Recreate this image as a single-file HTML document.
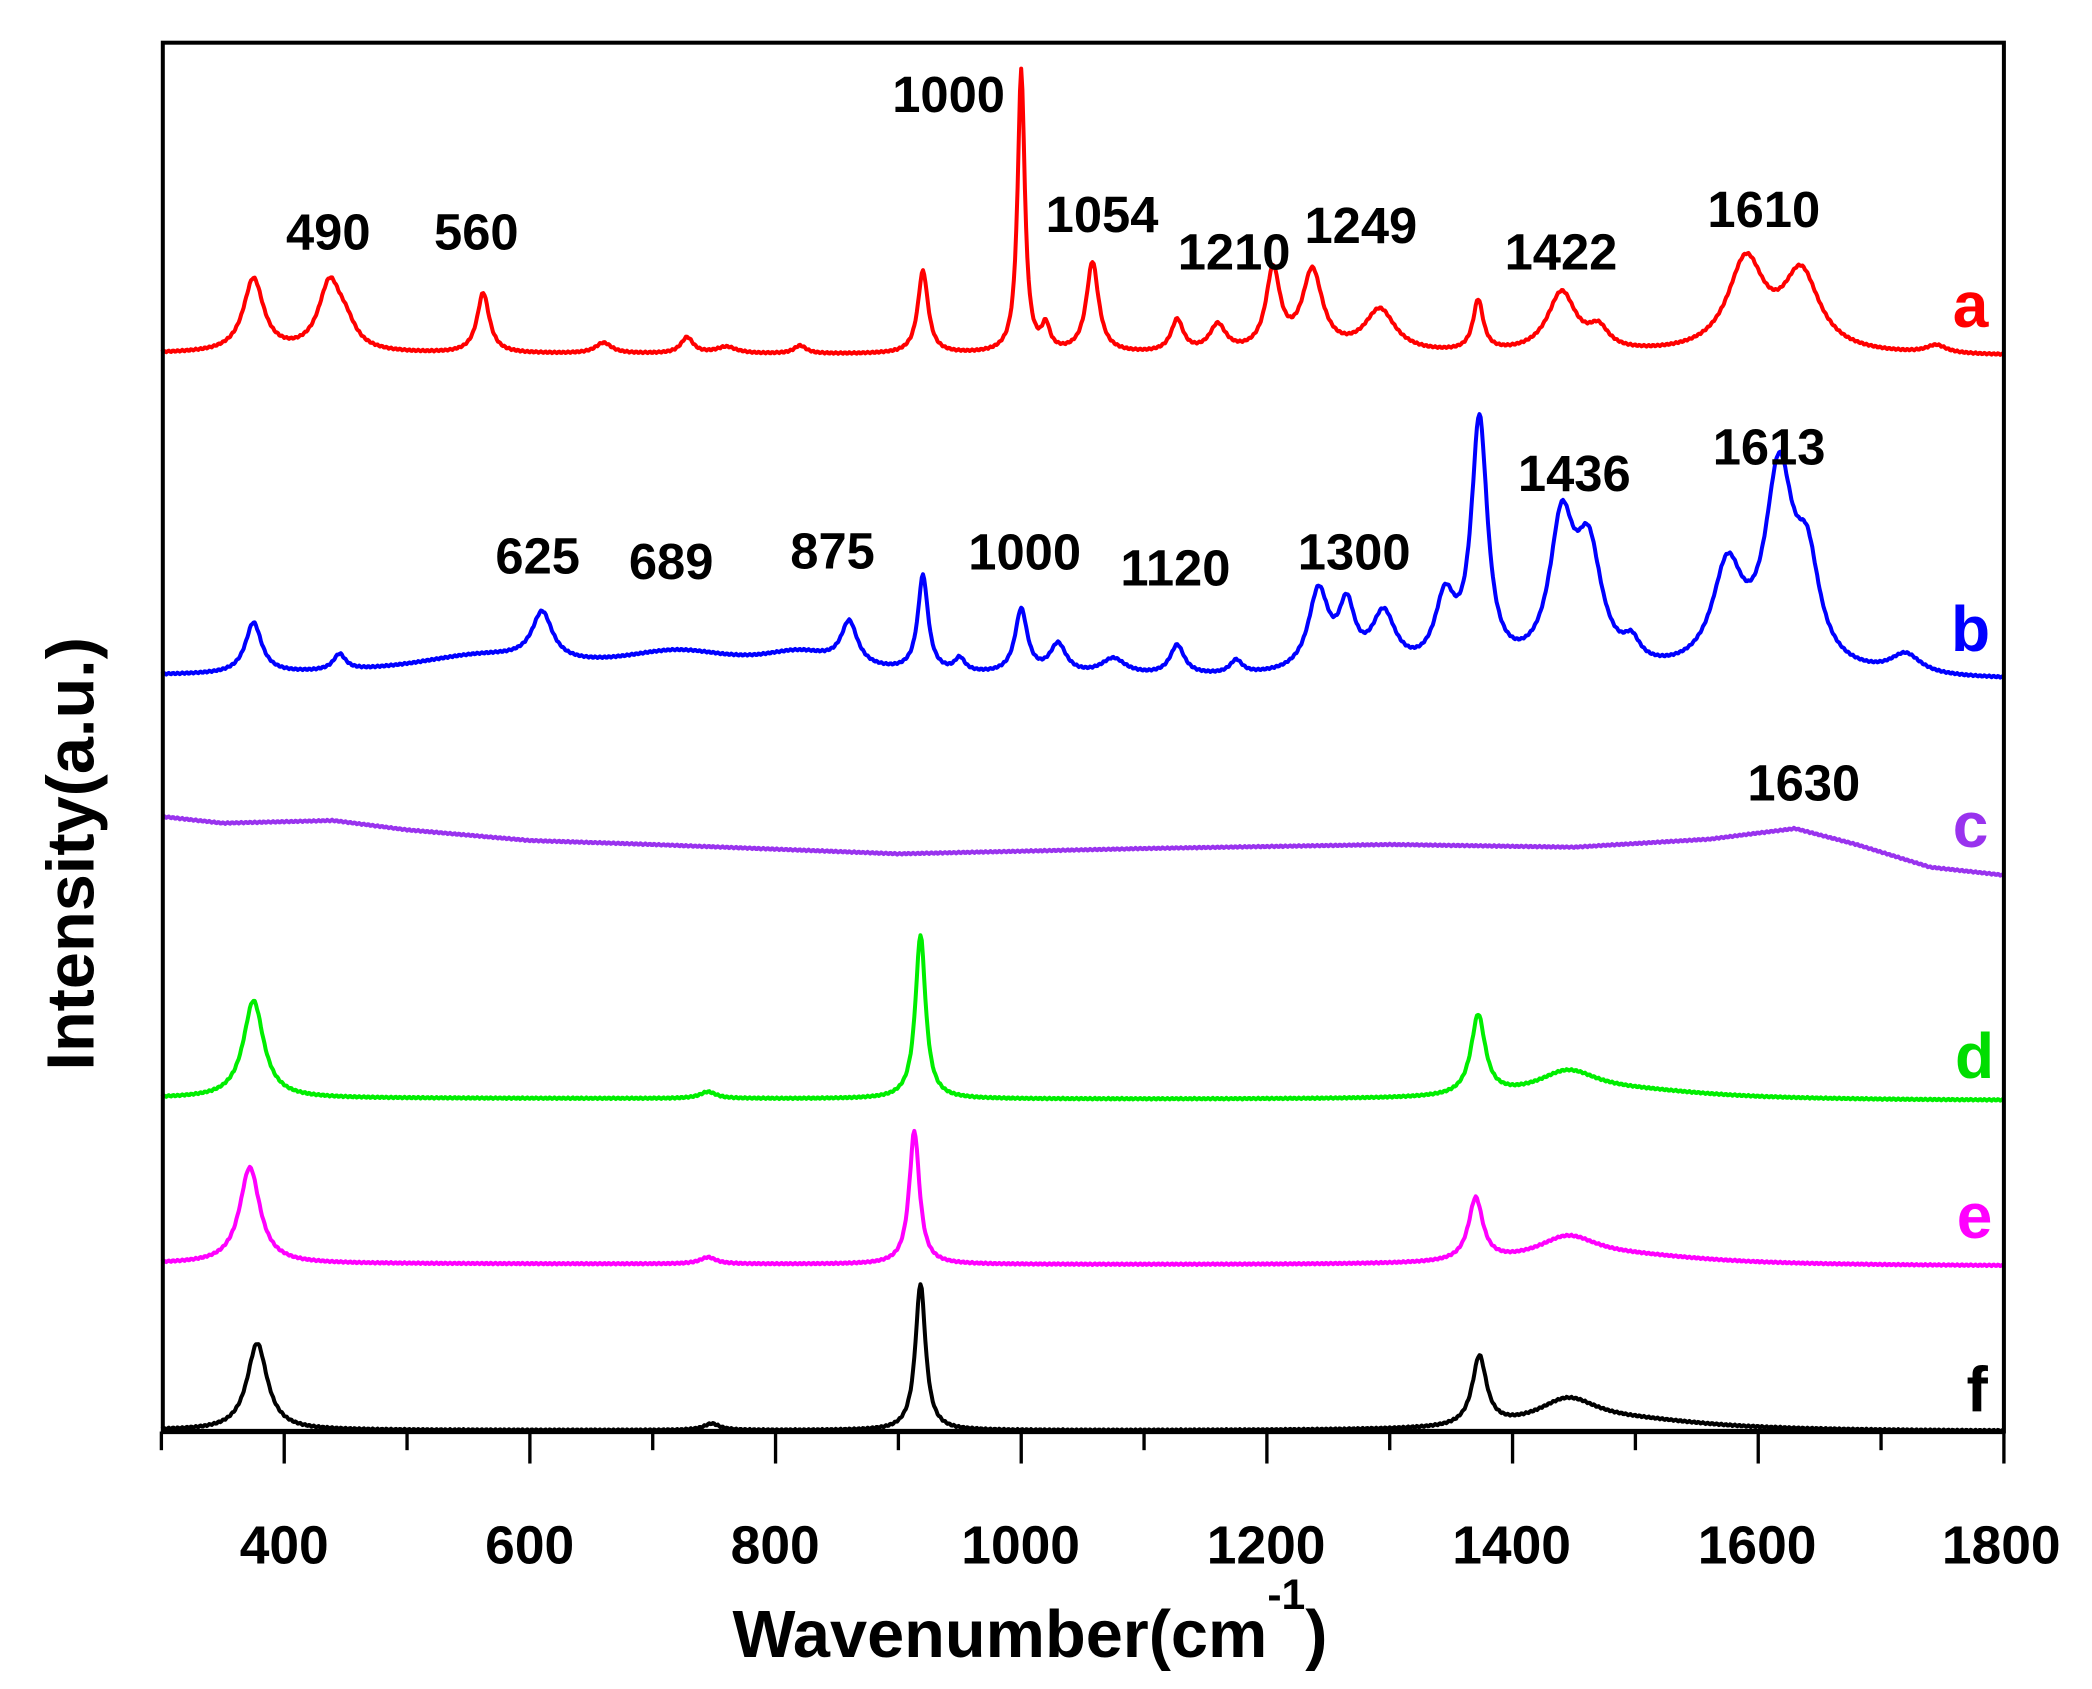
<!DOCTYPE html>
<html><head><meta charset="utf-8"><style>
html,body{margin:0;padding:0;background:#fff;}
svg{display:block;}
text{font-family:"Liberation Sans",Arial,sans-serif;font-weight:bold;}
</style></head><body>
<svg id="s" width="2092" height="1689" viewBox="0 0 1568 1266" xmlns="http://www.w3.org/2000/svg">
<rect x="0" y="0" width="1568" height="1266" fill="#fff"/>
<g id="curves" fill="none" stroke-width="3" stroke-linejoin="round"></g>
<rect x="122" y="32" width="1380" height="1041" fill="none" stroke="#000" stroke-width="3"/>
<line x1="122" y1="1073" x2="1502" y2="1073" stroke="#000" stroke-width="4"/>
<g id="ticks" stroke="#000" stroke-width="2.5"></g>
<g font-size="40" text-anchor="middle">
<text x="213" y="1172">400</text><text x="397" y="1172">600</text><text x="581" y="1172">800</text>
<text x="765" y="1172">1000</text><text x="949" y="1172">1200</text><text x="1133" y="1172">1400</text>
<text x="1317" y="1172">1600</text><text x="1500" y="1172">1800</text>
</g>
<text x="772" y="1242" font-size="50" text-anchor="middle">Wavenumber(cm<tspan font-size="32" dy="-36">-1</tspan><tspan dy="36">)</tspan></text>
<text transform="translate(70,640) rotate(-90)" font-size="50" text-anchor="middle">Intensity(a.u.)</text>
<g font-size="38" text-anchor="middle">
<text x="711" y="84">1000</text><text x="246" y="187">490</text><text x="357" y="187">560</text>
<text x="826" y="174">1054</text><text x="925" y="202">1210</text><text x="1020" y="182">1249</text>
<text x="1170" y="202">1422</text><text x="1322" y="170">1610</text>
<text x="403" y="430">625</text><text x="503" y="434">689</text><text x="624" y="426">875</text>
<text x="768" y="427">1000</text><text x="881" y="439">1120</text><text x="1015" y="427">1300</text>
<text x="1180" y="368">1436</text><text x="1326" y="348">1613</text><text x="1352" y="600">1630</text>
</g>
<g font-size="48" text-anchor="middle">
<text x="1477" y="245" fill="#ff0000">a</text>
<text x="1477" y="488" fill="#0000ff">b</text>
<text x="1477" y="635" fill="#9933ee">c</text>
<text x="1480" y="808" fill="#00dd00">d</text>
<text x="1480" y="928" fill="#ff00ff">e</text>
<text x="1482" y="1058" fill="#000">f</text>
</g>
</svg>
<script>
var X=function(w){return 213+(w-400)*1289/1400;};
var ns="http://www.w3.org/2000/svg";
var t=document.getElementById("ticks");
for(var w=300;w<=1800;w+=100){var l=document.createElementNS(ns,"line");var x=X(w);
l.setAttribute("x1",x);l.setAttribute("x2",x);l.setAttribute("y1",1073);l.setAttribute("y2",(w%200==0)?1097:1087);t.appendChild(l);}
function spec(base0,base1,peaks,color,extra){
 var d="";
 for(var w=300;w<=1800;w+=1){
  var y=base0+(base1-base0)*(w-300)/1500;
  for(var i=0;i<peaks.length;i++){var p=peaks[i];var u=(w-p[0])/p[2];y-=p[1]/(1+u*u);}
  if(extra)y+=extra(w);
  y+=Math.sin(w*1.7)*0.6;
  d+=(w==300?"M":"L")+X(w).toFixed(1)+" "+y.toFixed(1);
 }
 var pa=document.createElementNS(ns,"path");pa.setAttribute("d",d);pa.setAttribute("stroke",color);
 document.getElementById("curves").appendChild(pa);
}
spec(265,267,[[375,55,10],[437,50,11],[450,15,10],[562,45,6],[660,8,8],[728,12,6],[760,5,10],[820,6,6],[920,62,5],[1000,212,3.5],[1020,18,4],[1058,68,6],[1127,24,6],[1160,20,8],[1205,60,7],[1237,60,10],[1292,32,15],[1372,38,5],[1440,45,14],[1470,15,10],[1590,68,18],[1635,58,18],[1745,6,10]],"#ff0000");
spec(507,510,[[375,38,8],[445,12,6],[610,36,10],[560,14,70],[720,16,60],[860,32,8],[820,14,40],[920,72,5],[950,10,5],[1000,48,6],[1030,22,8],[1075,12,12],[1127,22,7],[1175,10,6],[1242,60,10],[1265,45,8],[1295,42,12],[1345,50,10],[1373,185,8],[1440,105,12],[1462,85,13],[1497,15,8],[1575,75,15],[1617,145,14],[1640,70,12],[1720,15,15]],"#0000ff");
var cpts=[[300,612],[350,617],[440,615],[500,622],[600,630],[700,633],[900,640],[1100,636],[1300,633],[1450,635],[1560,629],[1630,621],[1680,633],[1740,650],[1800,656]];
spec(0,0,[],"#9933ee",function(w){for(var i=0;i<cpts.length-1;i++){if(w>=cpts[i][0]&&w<=cpts[i+1][0]){var f=(w-cpts[i][0])/(cpts[i+1][0]-cpts[i][0]);return cpts[i][1]+f*(cpts[i+1][1]-cpts[i][1]);}}return 656;});
spec(823,825,[[375,73,10],[745,5,8],[918,123,5],[1372,60,7],[1445,18,30],[1500,6,80]],"#00ee00");
spec(947,949,[[372,72,10],[745,5,8],[913,100,5],[1370,47,7],[1445,18,30],[1500,6,80]],"#ff00ff");
spec(1072,1073,[[378,65,10],[748,5,8],[918,110,5],[1373,52,7],[1445,20,30],[1500,7,80]],"#000000");
</script>
</body></html>
